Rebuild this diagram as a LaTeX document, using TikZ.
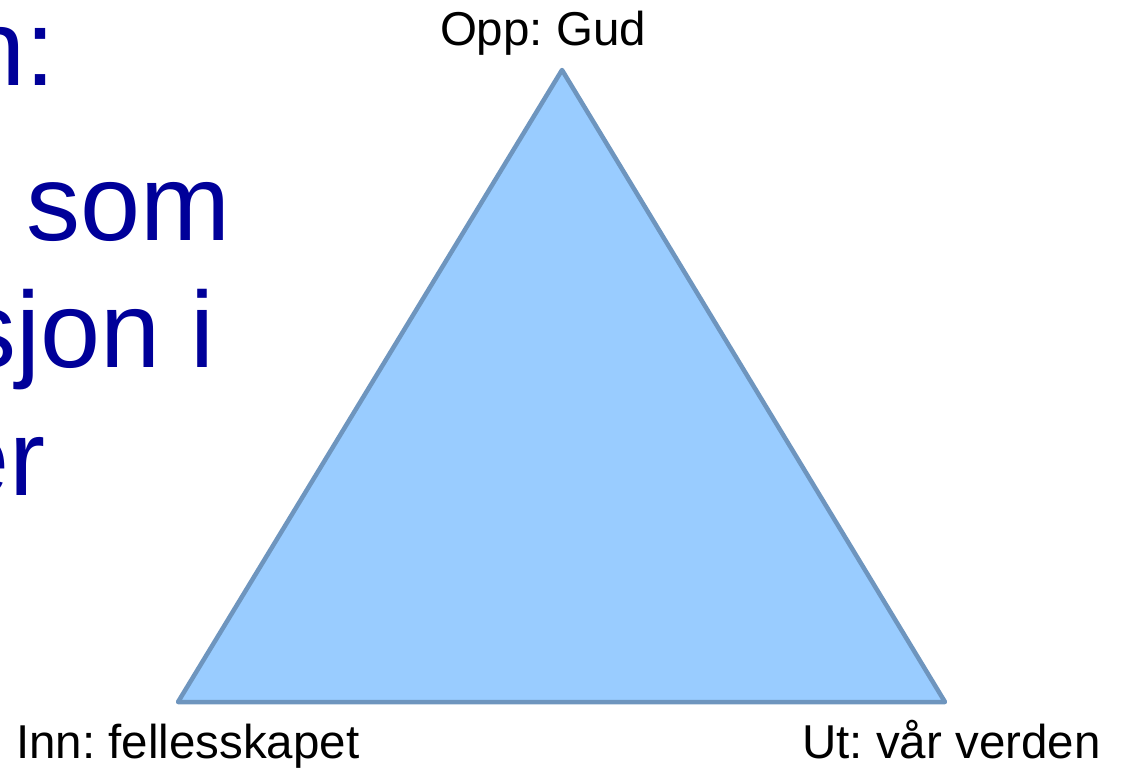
\documentclass[tikz,border=0pt]{standalone}
\usepackage{fontspec}
\setmainfont{Liberation Sans}
\frenchspacing
\definecolor{trifill}{HTML}{99CCFF}
\definecolor{triedge}{HTML}{6E95BE}
\definecolor{slideblue}{HTML}{000099}
\begin{document}
\begin{tikzpicture}[x=1pt,y=-1pt,
  lbl/.style={inner sep=0pt,font=\fontsize{47.5}{57}\selectfont,text=black},
  big/.style={inner sep=0pt,font=\fontsize{108}{128}\selectfont,text=slideblue},
  tri/.style={fill=trifill,draw=triedge,line width=4.5pt,line join=round}]
\useasboundingbox (0,0) rectangle (1121,769);
\clip (0,0) rectangle (1121,769);
% partial slide text on the left
\node[big,anchor=base east] (l1) at (56,85) {n:};
\node[big,anchor=base west] (l2) at (26,240) {som};
\node[big,anchor=base east] (l3) at (215,367) {sjon i};
\node[big,anchor=base east] (l4) at (46,495) {er};
% triangle
\coordinate (top) at (562,70);
\coordinate (bl) at (178,702);
\coordinate (br) at (945,702);
\draw[tri] (top) -- (bl) -- (br) -- cycle;
% labels
\node[lbl,anchor=base] (opp) at (543,45) {Opp: Gud};
\node[lbl,anchor=base west] (inn) at (16,758) {Inn: fellesskapet};
\node[lbl,anchor=base west] (ut) at (802,758) {Ut: vår verden};
\end{tikzpicture}
\end{document}
